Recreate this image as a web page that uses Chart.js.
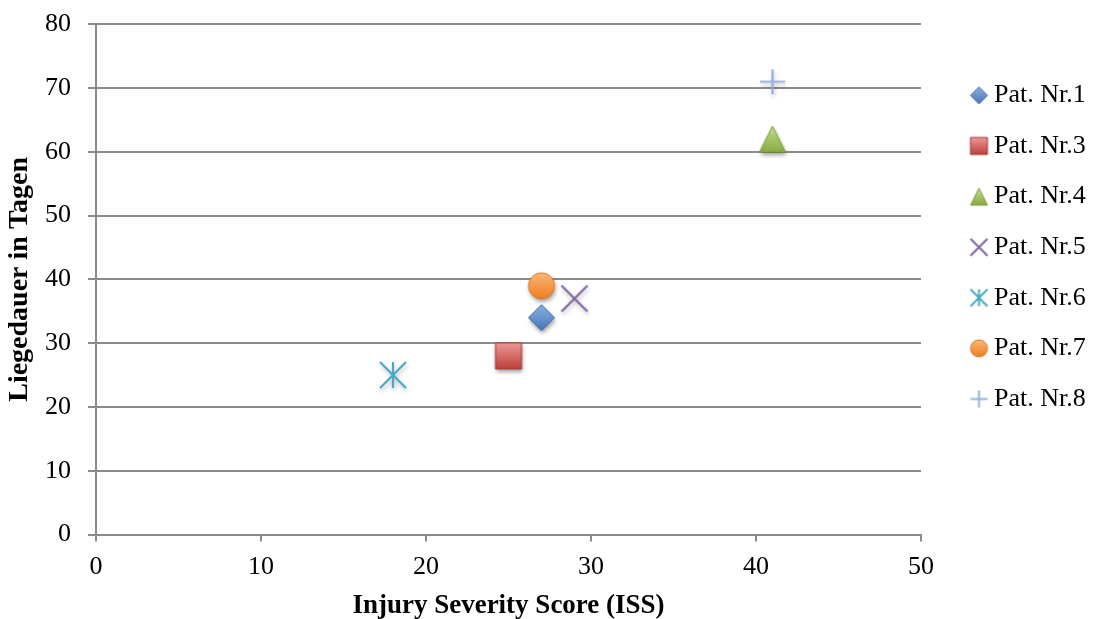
<!DOCTYPE html>
<html>
<head>
<meta charset="utf-8">
<script src="https://cdn.jsdelivr.net/npm/chart.js@4.4.1/dist/chart.umd.min.js"></script>
<style>
  html, body { margin: 0; padding: 0; background: #ffffff; }
  #wrap { width: 1094px; height: 619px; }
</style>
</head>
<body>
<div id="wrap"><canvas id="chart" width="1094" height="619"></canvas></div>
<script>
// Patients, their Injury Severity Score and length of stay in days
const patients = ['Pat. Nr.1', 'Pat. Nr.3', 'Pat. Nr.4', 'Pat. Nr.5', 'Pat. Nr.6', 'Pat. Nr.7', 'Pat. Nr.8'];
const issScores = [27, 25, 41, 29, 18, 27, 41];
const stayDays = [34, 28, 62, 37, 25, 39, 71];

// Axis tick values
const xTickValues = [0, 10, 20, 30, 40, 50];
const yTickValues = [0, 10, 20, 30, 40, 50, 60, 70, 80];

// Marker look for each patient
const markerShapes = ['diamond', 'square', 'triangle', 'cross', 'star', 'circle', 'plus'];
const markerPalettes = [
  { top: '#8AB2E2', bottom: '#4676B8', edge: '#3B659E' },
  { top: '#EC9996', bottom: '#BD403C', edge: '#A83733' },
  { top: '#C3DD86', bottom: '#86AD45', edge: '#78993D' },
  { line: '#7E64A0' },
  { line: '#48A9C4' },
  { top: '#FCB878', bottom: '#EE7D20', edge: '#D6752C' },
  { line: '#93B1DB' }
];

const FONT = '"Liberation Serif", "Times New Roman", serif';
const GRID = '#8b8b8b';

function markerCanvas(shape, size, pal, withShadow) {
  const pad = withShadow ? 8 : 2;
  const dim = Math.ceil(size) + pad * 2;
  const cv = document.createElement('canvas');
  cv.width = dim;
  cv.height = dim;
  const g = cv.getContext('2d');
  const c = dim / 2;
  const h = size / 2;
  const setShadow = (alpha) => {
    if (!withShadow) return;
    g.shadowColor = 'rgba(0,0,0,' + alpha + ')';
    g.shadowBlur = 4;
    g.shadowOffsetX = 1;
    g.shadowOffsetY = 3;
  };
  const clearShadow = () => {
    g.shadowColor = 'rgba(0,0,0,0)';
    g.shadowBlur = 0;
    g.shadowOffsetX = 0;
    g.shadowOffsetY = 0;
  };
  g.beginPath();
  if (shape === 'cross' || shape === 'star' || shape === 'plus') {
    if (shape !== 'plus') {
      g.moveTo(c - h, c - h); g.lineTo(c + h, c + h);
      g.moveTo(c + h, c - h); g.lineTo(c - h, c + h);
    }
    if (shape !== 'cross') {
      g.moveTo(c, c - h); g.lineTo(c, c + h);
    }
    if (shape === 'plus') {
      g.moveTo(c - h, c); g.lineTo(c + h, c);
    }
    setShadow(0.25);
    g.strokeStyle = pal.line;
    g.lineWidth = withShadow ? 2.2 : 2;
    g.lineCap = 'butt';
    g.stroke();
    return cv;
  }
  if (shape === 'diamond') {
    g.moveTo(c, c - h); g.lineTo(c + h, c); g.lineTo(c, c + h); g.lineTo(c - h, c); g.closePath();
  } else if (shape === 'square') {
    g.rect(c - h, c - h, size, size);
  } else if (shape === 'triangle') {
    g.moveTo(c, c - h); g.lineTo(c + h, c + h); g.lineTo(c - h, c + h); g.closePath();
  } else {
    g.arc(c, c, h, 0, Math.PI * 2);
  }
  const grad = g.createLinearGradient(0, c - h, 0, c + h);
  grad.addColorStop(0, pal.top);
  grad.addColorStop(1, pal.bottom);
  setShadow(0.38);
  g.fillStyle = grad;
  g.fill();
  clearShadow();
  g.strokeStyle = pal.edge;
  g.lineWidth = 1;
  g.stroke();
  return cv;
}

const plotMarkers = markerShapes.map((s, i) => markerCanvas(s, s === 'plus' ? 25 : 26, markerPalettes[i], true));
const legendMarkers = markerShapes.map((s, i) => markerCanvas(s, 17, markerPalettes[i], false));

// Legend sits in the right margin, with the marker column at a fixed place
const legendPlacement = {
  id: 'legendPlacement',
  beforeLayout(chart) {
    const lg = chart.legend;
    if (lg && !lg.__fixedWidth) {
      const fit = lg.fit.bind(lg);
      lg.fit = function () { fit(); this.width = 173; };
      lg.__fixedWidth = true;
    }
  },
  afterLayout(chart) {
    const lg = chart.legend;
    if (!lg) return;
    const left = 977 - lg.options.labels.padding;
    lg.right = left + lg.width;
    lg.left = left;
  }
};

const datasets = patients.map((name, i) => ({
  label: name,
  data: [{ x: issScores[i], y: stayDays[i] }],
  pointStyle: plotMarkers[i],
  pointRadius: 13,
  pointHoverRadius: 13,
  showLine: false
}));

new Chart(document.getElementById('chart'), {
  type: 'scatter',
  data: { datasets },
  options: {
    responsive: false,
    animation: false,
    devicePixelRatio: 1,
    layout: { padding: { left: 0, right: 0, top: 24.3, bottom: 0 } },
    font: { family: FONT },
    plugins: {
      tooltip: { enabled: false },
      legend: {
        position: 'right',
        align: 'start',
        title: { display: true, text: '', font: { size: 1, lineHeight: 1 }, padding: { top: 32.5, bottom: 0 } },
        labels: {
          usePointStyle: true,
          boxWidth: 4,
          boxHeight: 26,
          padding: 24.6,
          color: '#000000',
          font: { family: FONT, size: 26 },
          generateLabels(chart) {
            return chart.data.datasets.map((ds, i) => ({
              text: ds.label,
              pointStyle: legendMarkers[i],
              fillStyle: 'rgba(0,0,0,0)',
              strokeStyle: 'rgba(0,0,0,0)',
              lineWidth: 0,
              hidden: false,
              datasetIndex: i,
              fontColor: '#000000'
            }));
          }
        }
      }
    },
    scales: {
      x: {
        type: 'linear',
        min: xTickValues[0],
        max: xTickValues[xTickValues.length - 1],
        afterFit(scale) { scale.height = 84.5; },
        afterBuildTicks(scale) { scale.ticks = xTickValues.map(v => ({ value: v })); },
        grid: { drawOnChartArea: false, drawTicks: true, tickLength: 7, color: GRID, lineWidth: 2 },
        border: { display: true, color: GRID, width: 2 },
        ticks: { color: '#000000', padding: 10, font: { family: FONT, size: 26 } },
        title: {
          display: true,
          text: 'Injury Severity Score (ISS)',
          color: '#000000',
          font: { family: FONT, size: 27, weight: 'bold', lineHeight: 1 },
          padding: { top: 0, bottom: -1 }
        }
      },
      y: {
        type: 'linear',
        min: yTickValues[0],
        max: yTickValues[yTickValues.length - 1],
        afterFit(scale) {
          scale.width = 96;
          scale.paddingTop = 0;
          scale.paddingBottom = 0;
        },
        afterBuildTicks(scale) { scale.ticks = yTickValues.map(v => ({ value: v })); },
        grid: { drawOnChartArea: true, drawTicks: true, tickLength: 8, color: GRID, lineWidth: 2 },
        border: { display: true, color: GRID, width: 2 },
        ticks: { color: '#000000', padding: 17, font: { family: FONT, size: 26 } },
        title: {
          display: true,
          text: 'Liegedauer in Tagen',
          color: '#000000',
          font: { family: FONT, size: 28, weight: 'bold', lineHeight: 1 },
          padding: { top: 6, bottom: 0 }
        }
      }
    }
  },
  plugins: [legendPlacement]
});
</script>
</body>
</html>
